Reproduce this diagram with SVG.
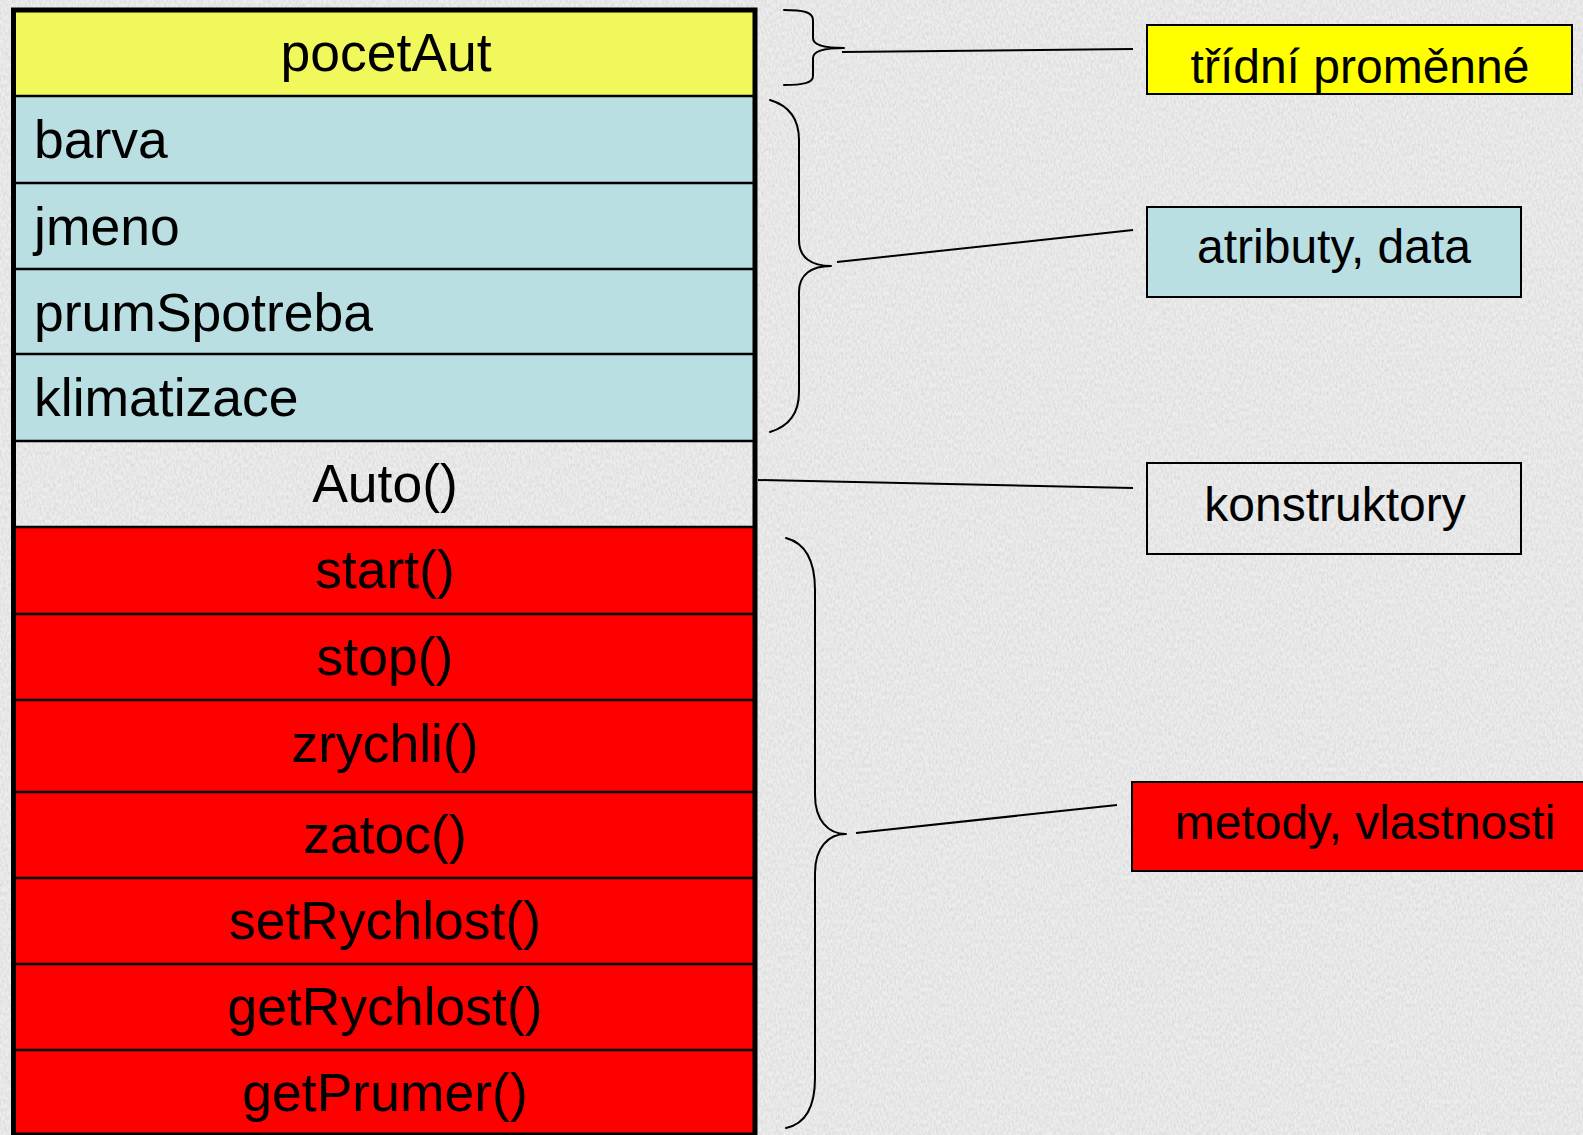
<svg xmlns="http://www.w3.org/2000/svg" width="1583" height="1135" viewBox="0 0 1583 1135">
  <defs>
    <filter id="grain" x="0" y="0" width="100%" height="100%" filterUnits="userSpaceOnUse">
      <feTurbulence type="fractalNoise" baseFrequency="0.55 0.25" numOctaves="2" seed="7" result="n"/>
      <feColorMatrix in="n" type="matrix" values="0 0 0 0 0.55  0 0 0 0 0.55  0 0 0 0 0.55  0.9 0 0 0 -0.3"/>
    </filter>
    <style>
      .t { font-family: "Liberation Sans", Arial, sans-serif; fill: #000; }
      .row { font-size: 53.5px; }
      .lbl { font-size: 48px; text-anchor: middle; }
      .mid { text-anchor: middle; }
      .sep { stroke: #000; stroke-width: 2.5; }
      .frame { fill: none; stroke: #000; stroke-width: 5; }
      .box { stroke: #000; stroke-width: 2; }
      .brace { fill: none; stroke: #000; stroke-width: 2; stroke-linecap: round; }
      .link { fill: none; stroke: #000; stroke-width: 2; }
      .yellow { fill: #F1F85C; }
      .blue { fill: #B9DFE2; }
      .red { fill: #FF0000; }
    </style>
  </defs>

  <!-- granite-like backdrop -->
  <rect x="0" y="0" width="1583" height="1135" fill="#EDEDED"/>
  <rect x="0" y="0" width="1583" height="1135" filter="url(#grain)"/>

  <!-- class Auto: one row per member -->
  <g id="class-auto">
    <g id="row-pocetAut">
      <rect class="yellow" x="13" y="10" width="742" height="86"/>
      <text class="t row mid" x="386" y="71">pocetAut</text>
    </g>
    <g id="row-barva">
      <rect class="blue" x="13" y="96" width="742" height="87"/>
      <text class="t row" x="34" y="158">barva</text>
    </g>
    <g id="row-jmeno">
      <rect class="blue" x="13" y="183" width="742" height="86"/>
      <text class="t row" x="34" y="245">jmeno</text>
    </g>
    <g id="row-prumSpotreba">
      <rect class="blue" x="13" y="269" width="742" height="85"/>
      <text class="t row" x="34" y="331">prumSpotreba</text>
    </g>
    <g id="row-klimatizace">
      <rect class="blue" x="13" y="354" width="742" height="87"/>
      <text class="t row" x="34" y="416">klimatizace</text>
    </g>
    <g id="row-Auto">
      <text class="t row mid" x="385" y="502">Auto()</text>
    </g>
    <g id="row-start">
      <rect class="red" x="13" y="527" width="742" height="87"/>
      <text class="t row mid" x="385" y="588">start()</text>
    </g>
    <g id="row-stop">
      <rect class="red" x="13" y="614" width="742" height="86"/>
      <text class="t row mid" x="385" y="675">stop()</text>
    </g>
    <g id="row-zrychli">
      <rect class="red" x="13" y="700" width="742" height="92"/>
      <text class="t row mid" x="385" y="762">zrychli()</text>
    </g>
    <g id="row-zatoc">
      <rect class="red" x="13" y="792" width="742" height="86"/>
      <text class="t row mid" x="385" y="853">zatoc()</text>
    </g>
    <g id="row-setRychlost">
      <rect class="red" x="13" y="878" width="742" height="86"/>
      <text class="t row mid" x="385" y="939">setRychlost()</text>
    </g>
    <g id="row-getRychlost">
      <rect class="red" x="13" y="964" width="742" height="86"/>
      <text class="t row mid" x="385" y="1025">getRychlost()</text>
    </g>
    <g id="row-getPrumer">
      <rect class="red" x="13" y="1050" width="742" height="85"/>
      <text class="t row mid" x="385" y="1111">getPrumer()</text>
    </g>

    <!-- row dividers -->
    <g id="dividers">
      <line class="sep" x1="13" y1="96" x2="755" y2="96"/>
      <line class="sep" x1="13" y1="183" x2="755" y2="183"/>
      <line class="sep" x1="13" y1="269" x2="755" y2="269"/>
      <line class="sep" x1="13" y1="354" x2="755" y2="354"/>
      <line class="sep" x1="13" y1="441" x2="755" y2="441"/>
      <line class="sep" x1="13" y1="527" x2="755" y2="527"/>
      <line class="sep" x1="13" y1="614" x2="755" y2="614"/>
      <line class="sep" x1="13" y1="700" x2="755" y2="700"/>
      <line class="sep" x1="13" y1="792" x2="755" y2="792"/>
      <line class="sep" x1="13" y1="878" x2="755" y2="878"/>
      <line class="sep" x1="13" y1="964" x2="755" y2="964"/>
      <line class="sep" x1="13" y1="1050" x2="755" y2="1050"/>
    </g>
    <rect class="frame" x="13.5" y="10" width="741.5" height="1125"/>
  </g>

  <!-- category labels -->
  <g id="label-tridni">
    <rect class="box" x="1147" y="25" width="425" height="69" fill="#FFFF00"/>
    <text class="t lbl" x="1360" y="83">třídní proměnné</text>
  </g>
  <g id="label-atributy">
    <rect class="box blue" x="1147" y="207" width="374" height="90"/>
    <text class="t lbl" x="1334" y="263">atributy, data</text>
  </g>
  <g id="label-konstruktory">
    <rect class="box" x="1147" y="463" width="374" height="91" fill="none"/>
    <text class="t lbl" x="1335" y="521">konstruktory</text>
  </g>
  <g id="label-metody">
    <rect class="box red" x="1132" y="782" width="460" height="89"/>
    <text class="t lbl" x="1365" y="839">metody, vlastnosti</text>
  </g>

  <!-- braces and leader lines -->
  <g id="connectors">
    <path class="brace" d="M784,10 C803,10 813,12 813,20 L813,38 C813,45 823,48 844,48 M844,48 C823,48 813,51 813,58 L813,76 C813,83 803,85 784,85"/>
    <path class="brace" d="M770,100 C790,106 799,120 799,140 L799,240 C799,258 812,266 831,266 M831,266 C812,266 799,274 799,292 L799,392 C799,412 790,426 770,432"/>
    <path class="brace" d="M786,538 C805,543 815,560 815,590 L815,795 C815,820 828,834 846,834 M846,834 C828,834 815,848 815,873 L815,1078 C815,1108 805,1124 786,1128"/>

    <line class="link" x1="842" y1="52" x2="1133" y2="49"/>
    <line class="link" x1="837" y1="262" x2="1133" y2="230"/>
    <line class="link" x1="758" y1="480" x2="1133" y2="488"/>
    <line class="link" x1="856" y1="833" x2="1117" y2="805"/>
  </g>
</svg>
